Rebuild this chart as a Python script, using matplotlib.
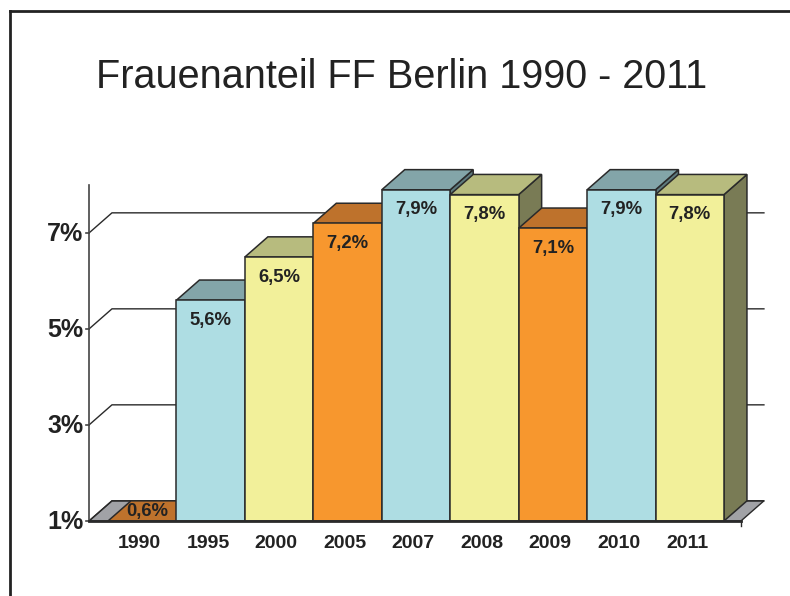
import matplotlib
matplotlib.use("Agg")
import matplotlib.pyplot as plt
from matplotlib.patches import Polygon
from matplotlib.lines import Line2D

# data
years = ['1990', '1995', '2000', '2005', '2007', '2008', '2009', '2010', '2011']
values = [0.6, 5.6, 6.5, 7.2, 7.9, 7.8, 7.1, 7.9, 7.8]
labels = ['0,6%', '5,6%', '6,5%', '7,2%', '7,9%', '7,8%', '7,1%', '7,9%', '7,8%']
yticks = [1, 3, 5, 7]
ytick_labels = ['1%', '3%', '5%', '7%']
title = 'Frauenanteil FF Berlin 1990 - 2011'

# colours: front, top, side
palette = [
    ('#F7972E', '#BE722C', '#8A5420'),   # orange
    ('#AEDDE3', '#83A5A9', '#5E7A7E'),   # blue
    ('#F2F09A', '#B7BB7E', '#797B55'),   # yellow
]
edge = '#2a2a2a'
floor_col = '#A1A2A6'

plt.rcParams['font.family'] = ['Liberation Sans', 'DejaVu Sans']

fig = plt.figure(figsize=(7.9, 5.96), dpi=100)
ax = fig.add_axes([0, 0, 1, 1])
ax.axis('off')

# scales: 68.44 px per category, 48 px per percent
ax.set_xlim(-2.078, -2.078 + 790 / 68.44)
ax.set_ylim(1 - 75 / 48, 1 + 521 / 48)

DX = 0.336   # depth offset in category units
DY = 0.42    # depth offset in percent units
ymin, ymax = 1, 8
xl, xr = -0.778, 8.748

# floor
ax.add_patch(Polygon([(xl, ymin), (xr, ymin), (xr + DX, ymin + DY), (xl + DX, ymin + DY)],
                     closed=True, fc=floor_col, ec=edge, lw=1.0, zorder=1))

# back wall gridlines + left wall diagonals
for t in yticks:
    ax.plot([xl, xl + DX, xr + DX], [t, t + DY, t + DY], color=edge, lw=1.0, zorder=1)

# left axis
ax.plot([xl, xl], [ymin, ymax], color='#444444', lw=1.2, zorder=1)
for t, lab in zip(yticks, ytick_labels):
    ax.plot([xl - 0.05, xl], [t, t], color='#444444', lw=1.2, zorder=1)
    ax.text(xl - 0.085, t - 0.02, lab, ha='right', va='center', fontsize=18,
            fontweight='bold', color='#222222')

# bars, left to right so that each covers the side of the previous one
for i, v in enumerate(values):
    front, top, side = palette[i % 3]
    h = max(v, ymin)
    x0, x1 = i - 0.5, i + 0.5
    ax.add_patch(Polygon([(x1, ymin), (x1 + DX, ymin + DY), (x1 + DX, h + DY), (x1, h)],
                         closed=True, fc=side, ec=edge, lw=1.1, zorder=2 + i))
    ax.add_patch(Polygon([(x0, h), (x1, h), (x1 + DX, h + DY), (x0 + DX, h + DY)],
                         closed=True, fc=top, ec=edge, lw=1.1, zorder=2 + i))
    if h > ymin:
        ax.add_patch(Polygon([(x0, ymin), (x1, ymin), (x1, h), (x0, h)],
                             closed=True, fc=front, ec=edge, lw=1.1, zorder=2 + i))
        ax.text(i, h - 0.42, labels[i], ha='center', va='center', fontsize=13.3,
                fontweight='bold', color='#222222', zorder=20)
    else:
        ax.text(i + 0.08, ymin + 0.2, labels[i], ha='center', va='center', fontsize=13.3,
                fontweight='bold', color='#222222', zorder=20)

# front floor edge
ax.plot([xl, xr], [ymin, ymin], color=edge, lw=2.0, zorder=30)
ax.plot([xr, xr], [ymin, ymin - 0.11], color=edge, lw=1.0, zorder=30)

# category labels
for i, y in enumerate(years):
    ax.text(i - 0.04, ymin - 0.46, y, ha='center', va='center', fontsize=14,
            fontweight='bold', color='#222222')

fig.text(402 / 790, 1 - 77 / 596, title, ha='center', va='center', fontsize=28.5,
         color='#222222')

# frame around the slide
fig.add_artist(Line2D([10 / 790, 10 / 790], [0, 1 - 11 / 596], transform=fig.transFigure,
                      color='#222222', lw=2))
fig.add_artist(Line2D([10 / 790, 1], [1 - 11 / 596, 1 - 11 / 596], transform=fig.transFigure,
                      color='#222222', lw=2))

fig.savefig('out.png', dpi=100)
